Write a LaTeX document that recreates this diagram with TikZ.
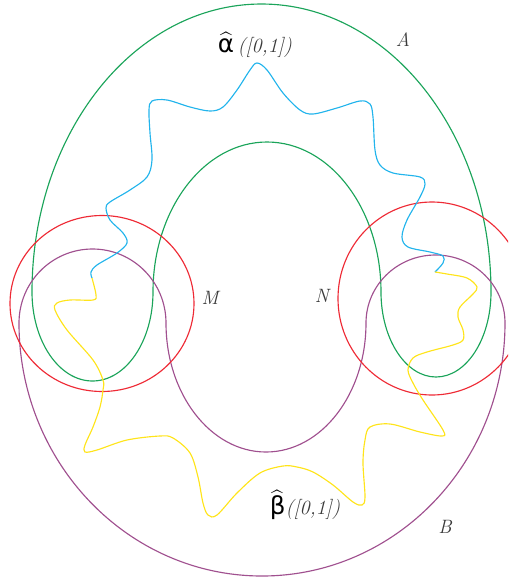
\documentclass[tikz,border=0pt]{standalone}
\usepackage{amsmath}
\usepackage{fontspec}
\usepackage{tikz}
\usetikzlibrary{positioning}
\newfontfamily\grkfont{DejaVu Sans}
\definecolor{stGreen}{HTML}{1BA45A}
\definecolor{stRed}{HTML}{EE2A35}
\definecolor{stPurple}{HTML}{A0508F}
\definecolor{stBlue}{HTML}{22B4EC}
\definecolor{stYellow}{HTML}{FFE41A}
\definecolor{stText}{HTML}{3A3A3A}
\tikzset{
  st-set/.style={line width=0.65pt, draw=#1},
  st-curve/.style={line width=0.65pt, draw=#1},
  st-name/.style={font=\fontsize{11}{13}\selectfont\itshape, text=stText, inner sep=0pt},
  st-image/.style={font=\fontsize{11.5}{14}\selectfont, inner sep=0pt},
}
\newcommand{\hatgrk}[1]{$\widehat{\text{\grkfont\fontsize{14}{16}\selectfont #1}}$}

\begin{document}
\begin{tikzpicture}[x=0.02cm, y=0.02cm]
  \useasboundingbox (0,0) rectangle (508,-579);
  \clip (0,0) rectangle (508,-579);

  % A
  \draw[st-set=stGreen] (32,-292)
    arc[start angle=180, end angle=0, x radius=229.5, y radius=288]
    arc[start angle=0, end angle=-180, x radius=55, y radius=85]
    arc[start angle=0, end angle=180, x radius=114, y radius=150]
    arc[start angle=0, end angle=-180, x radius=60.5, y radius=89] -- cycle;

  % B
  \draw[st-set=stPurple] (19,-323)
    arc[start angle=180, end angle=360, x radius=243, y radius=253]
    arc[start angle=0, end angle=180, x radius=69.5, y radius=68]
    arc[start angle=0, end angle=-180, x radius=100, y radius=129]
    arc[start angle=0, end angle=180, x radius=73.5, y radius=74] -- cycle;

  % M and N
  \draw[st-set=stRed] (102,-303.5) ellipse[x radius=92, y radius=88];
  \draw[st-set=stRed] (432,-298.5) ellipse[x radius=94, y radius=96.5];

  % alpha hat
  \draw[st-curve=stBlue] plot[smooth, tension=0.55] coordinates {
    (92,-278) (91,-272) (97,-265) (117,-253) (127,-243) (123,-233)
    (110,-220) (106,-208) (110,-202) (130,-190) (147,-177) (152,-160)
    (150,-133) (149,-110) (152,-101) (167,-100) (190,-107) (210,-111)
    (223,-107) (237,-90) (250,-70) (257,-63) (267,-70) (283,-93)
    (300,-110) (313,-114) (337,-108) (360,-101) (370,-104) (373,-117)
    (375,-150) (380,-165) (393,-173) (420,-177) (425,-184) (420,-197)
    (407,-220) (402,-237) (408,-247) (430,-252) (443,-256) (443,-263)
    (435,-272)};

  % beta hat
  \draw[st-curve=stYellow] plot[smooth, tension=0.55] coordinates {
    (435,-272) (447,-274) (467,-278) (477,-287) (473,-294) (460,-307)
    (458,-317) (463,-330) (463,-340) (453,-345) (427,-352) (413,-358)
    (408,-370) (413,-383) (423,-400) (443,-430) (442,-436) (420,-432)
    (390,-424) (370,-427) (365,-440) (363,-463) (365,-497) (362,-505)
    (353,-502) (333,-485) (313,-472) (297,-467) (283,-466) (260,-473)
    (237,-493) (217,-515) (208,-515) (203,-503) (198,-477) (190,-453)
    (173,-438) (160,-436) (127,-440) (97,-450) (85,-452) (85,-445)
    (93,-427) (100,-407) (103,-390) (103,-380) (93,-360) (67,-330)
    (55,-310) (57,-303) (70,-300) (93,-300) (96,-295) (92,-278)};

  \node[st-name] (lblA) at (403,-40) {A};
  \node[st-name] (lblB) at (445,-527) {B};
  \node[st-name] (lblM) at (210,-298) {M};
  \node[st-name] (lblN) at (322,-296) {N};
  \node[st-image] (lblAlpha) at (255,-45) {\hatgrk{α}\,{\color{stText}\itshape ([0,1])}};
  \node[st-image] (lblBeta) at (305,-505) {\hatgrk{β}{\color{stText}\itshape ([0,1])}};
\end{tikzpicture}
\end{document}
